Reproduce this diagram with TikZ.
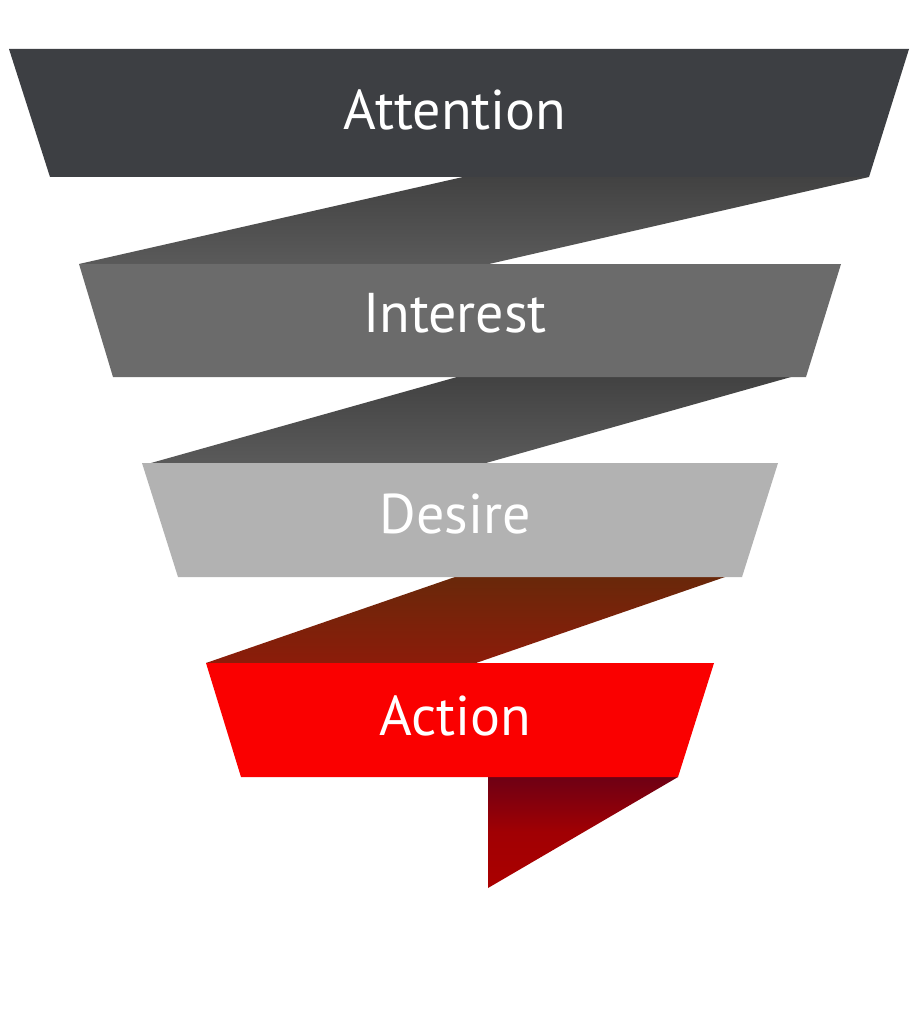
\documentclass[tikz,border=0pt]{standalone}
\usepackage{fontspec}
\setmainfont{PT Sans}
\definecolor{attc}{RGB}{61,63,67}
\definecolor{intc}{RGB}{107,107,107}
\definecolor{desc}{RGB}{178,178,178}
\definecolor{actc}{RGB}{250,0,0}
\definecolor{rgA}{RGB}{66,66,66}
\definecolor{rgB}{RGB}{90,90,90}
\definecolor{rbA}{RGB}{105,40,10}
\definecolor{rbB}{RGB}{140,28,10}
\definecolor{tlA}{RGB}{110,0,20}
\definecolor{tlB}{RGB}{170,0,0}
\tikzset{
  label/.style={text=white, font=\fontsize{56}{56}\selectfont, inner sep=0pt, anchor=base},
}
\begin{document}
\begin{tikzpicture}[x=1pt,y=-1pt]
\useasboundingbox (0,0) rectangle (919,1024);
\fill[white] (0,0) rectangle (919,1024);
% ribbons
\shade[top color=rgA, bottom color=rgB] (463,177) -- (869,177) -- (489,264) -- (79,264) -- cycle;
\shade[top color=rgA, bottom color=rgB] (457,377) -- (791,377) -- (486,463) -- (151,463) -- cycle;
\shade[top color=rbA, bottom color=rbB] (455,577) -- (725,577) -- (476,663) -- (206,663) -- cycle;
\shade[top color=tlA, bottom color=tlB, middle color=tlB!85!tlA] (488,777) -- (678,777) -- (488,888) -- cycle;
% bands
\fill[attc] (9,49) -- (909,49) -- (869,177) -- (50,177) -- cycle;
\fill[intc] (79,264) -- (841,264) -- (806,377) -- (113,377) -- cycle;
\fill[desc] (142,463) -- (778,463) -- (742,577) -- (178,577) -- cycle;
\fill[actc] (206,663) -- (714,663) -- (678,777) -- (241,777) -- cycle;
% labels
\node[label] (att) at (455,130) {Attention};
\node[label] (int) at (455,332) {Interest};
\node[label] (des) at (455,533) {Desire};
\node[label] (act) at (455,735) {Action};
\end{tikzpicture}
\end{document}
